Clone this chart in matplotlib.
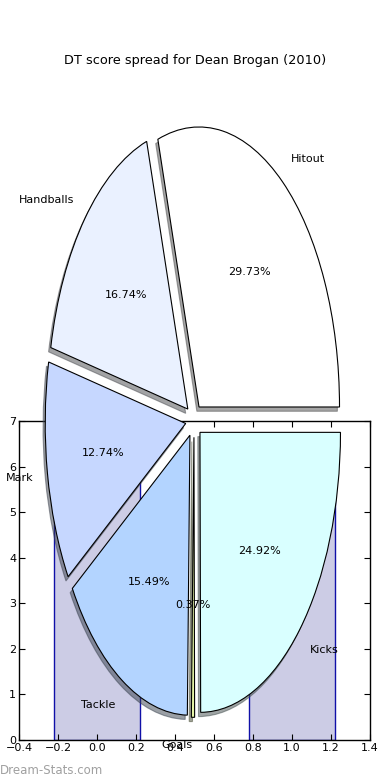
import matplotlib
matplotlib.use('Agg')
import matplotlib.pyplot as plt

# pie data (share of DT score)
labels = ['Hitout', 'Handballs', 'Mark', 'Tackle', 'Goals', 'Kicks']
shares = [29.73, 16.74, 12.74, 15.49, 0.37, 24.92]
colours = ['#FFFFFF', '#EAF1FF', '#C6D7FF', '#B3D4FF', '#E6F5A8', '#D9FFFF']
explode = [0.06] * 6

# bars behind the pie
bar_x = [0, 1]
bar_h = [7.0, 6.5]
bar_w = 0.44

fig = plt.figure(figsize=(3.9, 7.8), dpi=100)
fig.text(0.5, 0.922, 'DT score spread for Dean Brogan (2010)', ha='center', va='center', fontsize=9.3)

# bar axes
ax = fig.add_axes([0.0487, 0.0513, 0.9, 0.409])
ax.bar(bar_x, bar_h, width=bar_w, color='#CCCCE5', edgecolor='#1010A8', linewidth=1.0)
ax.set_xlim(-0.4, 1.4)
ax.set_ylim(0, 7)
ax.set_xticks([-0.4, -0.2, 0.0, 0.2, 0.4, 0.6, 0.8, 1.0, 1.2, 1.4])
ax.set_xticklabels(['\u22120.4', '\u22120.2', '0.0', '0.2', '0.4', '0.6', '0.8', '1.0', '1.2', '1.4'])
ax.set_yticks(range(0, 8))
ax.tick_params(direction='in', top=True, right=True, length=4, labelsize=8, pad=2)
for s in ax.spines.values():
    s.set_linewidth(1.0)

# pie axes over the whole figure, stretched (not equal aspect)
pax = fig.add_axes([0, 0, 1, 1])
pax.patch.set_alpha(0)
wedges, texts, autotexts = pax.pie(shares, labels=labels, colors=colours, explode=explode,
                                   autopct='%1.2f%%', shadow={'ox': -0.011, 'oy': -0.011},
                                   startangle=0,
                                   wedgeprops={'edgecolor': 'black', 'linewidth': 0.8},
                                   textprops={'fontsize': 8})
pax.set_aspect('auto')
cx, cy, rx, ry = 194.0, 420.5, 140.5, 280.0
pax.set_xlim(-cx / rx, (390 - cx) / rx)
pax.set_ylim(-(780 - cy) / ry, cy / ry)
pax.axis('off')

fig.text(0.0, 0.012, 'Dream-Stats.com', ha='left', va='center', fontsize=8.5,
         color='#A0A0A0')

fig.savefig('out.png', dpi=100)
